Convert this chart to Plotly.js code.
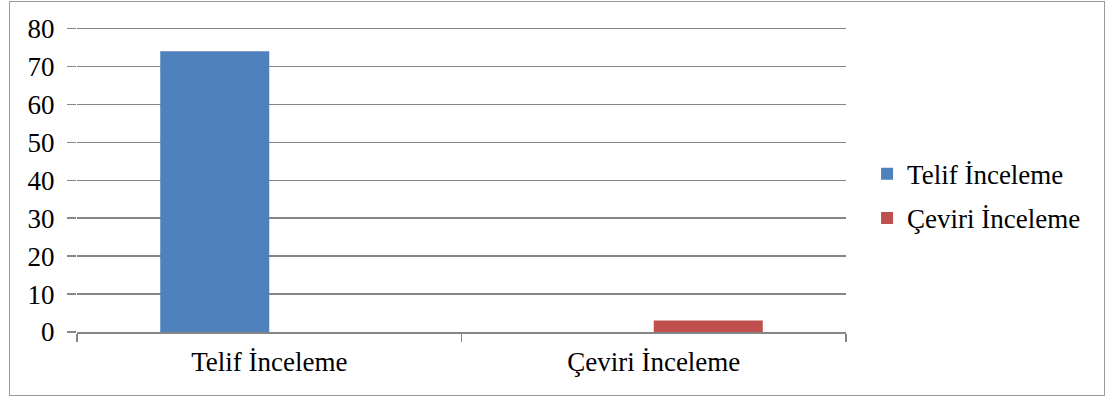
<!DOCTYPE html>
<html>
<head>
<meta charset="utf-8">
<script src="https://cdn.plot.ly/plotly-3.0.1.min.js"></script>
<style>
  html, body { margin: 0; padding: 0; background: #fff; }
  #wrap { position: relative; width: 1113px; height: 401px; overflow: hidden; }
  #chart { position: absolute; left: 0; top: 0; width: 1113px; height: 401px; }
  #frame { position: absolute; left: 9px; top: 1px; width: 1094px; height: 393px; border: 1.5px solid #9a9a9a; pointer-events: none; }
</style>
</head>
<body>
<div id="wrap">
  <div id="chart"></div>
  <div id="frame"></div>
</div>
<script>
const categories = ['Telif İnceleme', 'Çeviri İnceleme'];
const seriesNames = ['Telif İnceleme', 'Çeviri İnceleme'];
const telifValues = [74, 0];
const ceviriValues = [0, 3];
const yTickValues = [0, 10, 20, 30, 40, 50, 60, 70, 80];

const font = { family: '"Liberation Serif", "Times New Roman", serif', size: 27, color: '#000' };

const data = [
  { type: 'bar', name: seriesNames[0], x: categories, y: telifValues, marker: { color: '#4F81BD' }, legendgroup: 'a' },
  { type: 'bar', name: seriesNames[1], x: categories, y: ceviriValues, marker: { color: '#C0504D' }, legendgroup: 'b' }
];

const layout = {
  width: 1113, height: 401,
  margin: { l: 77, r: 267, t: 27, b: 69 },
  paper_bgcolor: 'rgba(0,0,0,0)', plot_bgcolor: '#fff',
  font: font,
  barmode: 'group',
  bargap: 0.433, bargroupgap: 0,
  showlegend: true,
  legend: { x: 1.0274, xanchor: 'left', y: 0.445, yanchor: 'middle', font: font, traceorder: 'grouped', tracegroupgap: 6, bgcolor: 'rgba(0,0,0,0)', itemwidth: 30 },
  xaxis: {
    showline: true, linecolor: '#868686', linewidth: 1.5,
    ticks: 'outside', tickson: 'boundaries', ticklen: 8, tickcolor: '#868686', tickwidth: 1.5,
    showgrid: false, zeroline: false, ticklabelstandoff: 5, tickfont: font
  },
  yaxis: {
    range: [0, 80.4], tickvals: yTickValues, ticktext: yTickValues.map(String),
    showline: false, zeroline: false,
    showgrid: true, gridcolor: '#868686', gridwidth: 1.5,
    ticks: 'outside', ticklen: 9, tickcolor: '#868686', tickwidth: 1.5,
    ticklabelstandoff: 7, tickfont: font
  },
  annotations: [
    { xref: 'paper', yref: 'paper', x: 0.045, y: -0.22, xanchor: 'center', yanchor: 'top', text: 'İ', showarrow: false, font: font }
  ]
};

Plotly.newPlot('chart', data, layout, { staticPlot: true, displayModeBar: false });
</script>
</body>
</html>
